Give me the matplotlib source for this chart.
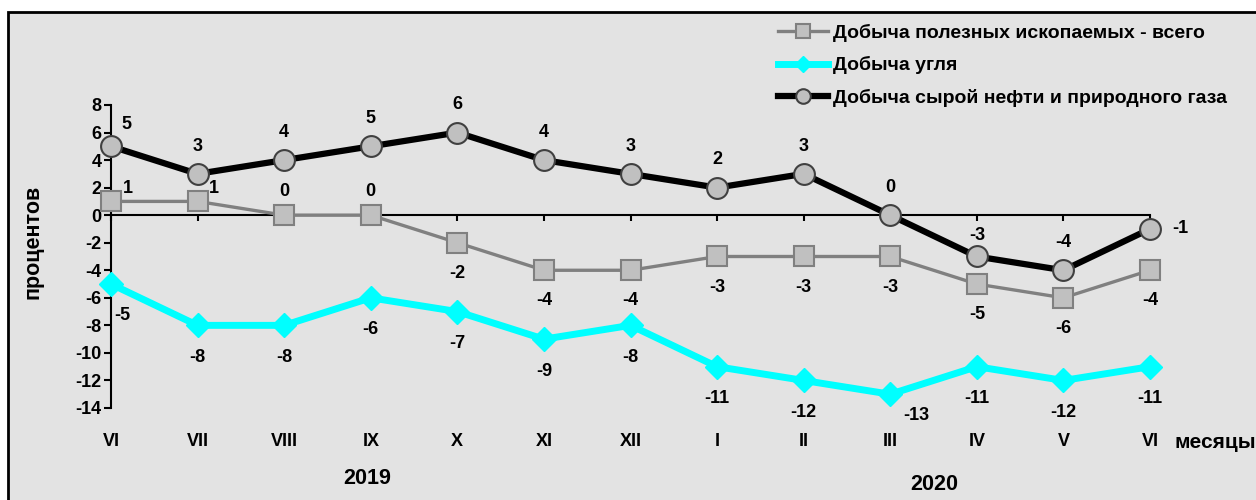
import matplotlib.pyplot as plt
from matplotlib.patches import Rectangle

# data
months = ['VI', 'VII', 'VIII', 'IX', 'X', 'XI', 'XII', 'I', 'II', 'III', 'IV', 'V', 'VI']
total = [1, 1, 0, 0, -2, -4, -4, -3, -3, -3, -5, -6, -4]
coal = [-5, -8, -8, -6, -7, -9, -8, -11, -12, -13, -11, -12, -11]
oil_gas = [5, 3, 4, 5, 6, 4, 3, 2, 3, 0, -3, -4, -1]
y_ticks = [8, 6, 4, 2, 0, -2, -4, -6, -8, -10, -12, -14]

plt.rcParams['font.family'] = ['Liberation Sans', 'DejaVu Sans']
plt.rcParams['font.weight'] = 'bold'
plt.rcParams['axes.unicode_minus'] = False

fig = plt.figure(figsize=(12.56, 5), dpi=100)
fig.patch.set_facecolor('white')
# grey panel with black border, cut off at right and bottom
fig.patches.append(Rectangle((8 / 1256, -0.05), 1.1, 1 - 12 / 500 + 0.05,
                             transform=fig.transFigure, facecolor='#e3e3e3',
                             edgecolor='black', linewidth=2, zorder=0))

ax = fig.add_axes([111 / 1256, 1 - 408 / 500, (1150 - 111) / 1256, (408 - 105) / 500])
ax.set_facecolor('none')
ax.set_zorder(2)
x = list(range(len(months)))

ax.plot(x, total, color='#808080', lw=2.4, marker='s', ms=14,
        mfc='#c0c0c0', mec='#808080', mew=1.5, label='Добыча полезных ископаемых - всего',
        zorder=3, clip_on=False)
ax.plot(x, coal, color='#00ffff', lw=5, marker='D', ms=12,
        mfc='#00ffff', mec='#00ffff', label='Добыча угля', zorder=3, clip_on=False)
ax.plot(x, oil_gas, color='black', lw=4.5, marker='o', ms=15,
        mfc='#c0c0c0', mec='#404040', mew=1.5, label='Добыча сырой нефти и природного газа',
        zorder=4, clip_on=False)

fs = 13
# value labels
for i, v in enumerate(oil_gas):
    off = (0, 20)
    if i == 0:
        off = (11, 16)
    elif i == 10:
        off = (0, 15)
    elif i == len(x) - 1:
        off = (22, 0)
    ax.annotate(str(v), (i, v), xytext=off, textcoords='offset points',
                ha='center', va='center', fontsize=fs, fontweight='bold')
for i, v in enumerate(total):
    if v >= 0:
        off = (12, 9) if i < 2 else (0, 17)
    else:
        off = (0, -22)
    ax.annotate(str(v), (i, v), xytext=off, textcoords='offset points',
                ha='center', va='center', fontsize=fs, fontweight='bold')
for i, v in enumerate(coal):
    off = (0, -23)
    if i == 0:
        off = (8, -23)
    elif i == 9:
        off = (19, -15)
    ax.annotate(str(v), (i, v), xytext=off, textcoords='offset points',
                ha='center', va='center', fontsize=fs, fontweight='bold')

ax.set_xlim(0, len(x) - 1)
ax.set_ylim(-14, 8)
ax.set_yticks(y_ticks)
ax.set_yticklabels([str(t) for t in y_ticks])
ax.set_xticks(x)
ax.set_xticklabels(months)
for s in ['top', 'right']:
    ax.spines[s].set_visible(False)
ax.spines['bottom'].set_position(('data', 0))
ax.spines['bottom'].set_linewidth(1.5)
ax.spines['left'].set_linewidth(1.5)
ax.tick_params(axis='y', direction='out', length=5, width=1.5, labelsize=13, pad=2)
ax.tick_params(axis='x', direction='out', length=4, width=1.5, labelsize=13, pad=153)

fig.text(33 / 1256, 1 - 242 / 500, 'процентов', rotation=90, ha='center', va='center',
         fontsize=15.5, fontweight='bold')
fig.text(1174 / 1256, 1 - 443 / 500, 'месяцы', ha='left', va='center',
         fontsize=15, fontweight='bold')
fig.text(367 / 1256, 1 - 478 / 500, '2019', ha='center', va='center', fontsize=15.5, fontweight='bold')
fig.text(934 / 1256, 1 - 485 / 500, '2020', ha='center', va='center', fontsize=15.5, fontweight='bold')

fig.legend(loc='upper left', bbox_to_anchor=(770 / 1256, 1 - 16 / 500), frameon=False,
           fontsize=14, handlelength=2.6, handletextpad=0.25, labelspacing=0.75,
           borderaxespad=0, markerscale=0.7)

fig.savefig('out.png', dpi=100, facecolor=fig.get_facecolor())
